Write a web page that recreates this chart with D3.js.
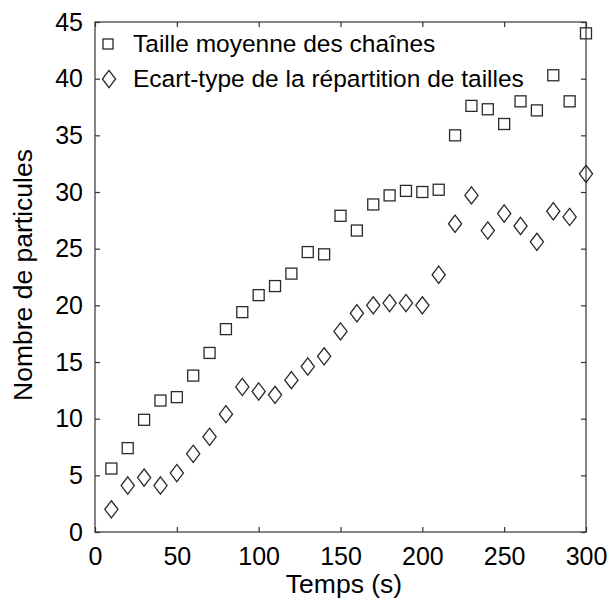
<!DOCTYPE html>
<html><head><meta charset="utf-8">
<script src="https://cdn.jsdelivr.net/npm/d3@7"></script>
<style>
body{margin:0;background:#fff;}
text{font-family:"Liberation Sans",Arial,Helvetica,sans-serif;fill:#000;}
</style></head>
<body><svg id="c" width="611" height="600"></svg>
<script>
const times = [10,20,30,40,50,60,70,80,90,100,110,120,130,140,150,160,170,180,190,200,210,220,230,240,250,260,270,280,290,300];
const tailleMoyenne = [5.6,7.4,9.9,11.6,11.9,13.8,15.8,17.9,19.4,20.9,21.7,22.8,24.7,24.5,27.9,26.6,28.9,29.7,30.1,30.0,30.2,35.0,37.6,37.3,36.0,38.0,37.2,40.3,38.0,44.0];
const ecartType = [2.0,4.1,4.8,4.1,5.2,6.9,8.4,10.4,12.8,12.4,12.1,13.4,14.6,15.5,17.7,19.3,20.0,20.2,20.2,20.0,22.7,27.2,29.7,26.6,28.1,27.0,25.6,28.3,27.8,31.6];
const xTicks = [0,50,100,150,200,250,300];
const yTicks = [0,5,10,15,20,25,30,35,40,45];
const legendLabels = ["Taille moyenne des chaînes","Ecart-type de la répartition de tailles"];
const xLabel = "Temps (s)", yLabel = "Nombre de particules";

const svg = d3.select("#c");
const L=95,R=586,T=22,B=532;
const x = d3.scaleLinear().domain([0,300]).range([L,R]);
const y = d3.scaleLinear().domain([0,45]).range([B,T]);
const axCol="#333", mk="#2a2a2a";

svg.append("rect").attr("x",L).attr("y",T).attr("width",R-L).attr("height",B-T)
  .attr("fill","none").attr("stroke",axCol).attr("stroke-width",1.2);

const fsTick=25, fsLeg=24.5, fsLab=26.5;
const gx=svg.append("g").attr("transform",`translate(0,${B})`)
  .call(d3.axisBottom(x).tickValues(xTicks).tickSizeInner(-5).tickSizeOuter(0).tickPadding(9).tickFormat(d3.format("d")));
const gxt=svg.append("g").attr("transform",`translate(0,${T})`)
  .call(d3.axisTop(x).tickValues(xTicks).tickSizeInner(-5).tickSizeOuter(0).tickFormat(""));
const gy=svg.append("g").attr("transform",`translate(${L},0)`)
  .call(d3.axisLeft(y).tickValues(yTicks).tickSizeInner(-5).tickSizeOuter(0).tickPadding(12).tickFormat(d3.format("d")));
const gyr=svg.append("g").attr("transform",`translate(${R},0)`)
  .call(d3.axisRight(y).tickValues(yTicks).tickSizeInner(-5).tickSizeOuter(0).tickFormat(""));
[gx,gxt,gy,gyr].forEach(g=>{
  g.select(".domain").remove();
  g.selectAll("line").attr("stroke",axCol).attr("stroke-width",1.2);
  g.selectAll("text").style("font-family",'"Liberation Sans",Arial,sans-serif').style("font-size",fsTick+"px").attr("fill","#000");
});
gx.selectAll("text").attr("dy","0.95em");

const sq=5.5, dw=6.6, dh=8.6;
const diamond = (cx,cy)=>`M${cx},${cy-dh}L${cx+dw},${cy}L${cx},${cy+dh}L${cx-dw},${cy}Z`;

svg.append("g").selectAll("rect").data(times.map((t,i)=>[t,tailleMoyenne[i]])).join("rect")
  .attr("x",d=>x(d[0])-sq).attr("y",d=>y(d[1])-sq).attr("width",2*sq).attr("height",2*sq)
  .attr("fill","none").attr("stroke",mk).attr("stroke-width",1.3);
svg.append("g").selectAll("path").data(times.map((t,i)=>[t,ecartType[i]])).join("path")
  .attr("d",d=>diamond(x(d[0]),y(d[1])))
  .attr("fill","none").attr("stroke",mk).attr("stroke-width",1.3);

const lg=svg.append("g");
lg.append("rect").attr("x",108-sq+0.5).attr("y",44-sq+0.5).attr("width",2*sq-1).attr("height",2*sq-1)
  .attr("fill","none").attr("stroke",mk).attr("stroke-width",1.3);
lg.append("path").attr("d",diamond(109,79)).attr("fill","none").attr("stroke",mk).attr("stroke-width",1.3);
lg.append("text").attr("x",133).attr("y",52).style("font-size",fsLeg+"px").text(legendLabels[0]);
lg.append("text").attr("x",133).attr("y",87).style("font-size",fsLeg+"px").text(legendLabels[1]);

svg.append("text").attr("x",344).attr("y",593).attr("text-anchor","middle").style("font-size",fsLab+"px").text(xLabel);
svg.append("text").attr("transform",`translate(32,275) rotate(-90)`).attr("text-anchor","middle").style("font-size",fsLab+"px").text(yLabel);
</script></body></html>
